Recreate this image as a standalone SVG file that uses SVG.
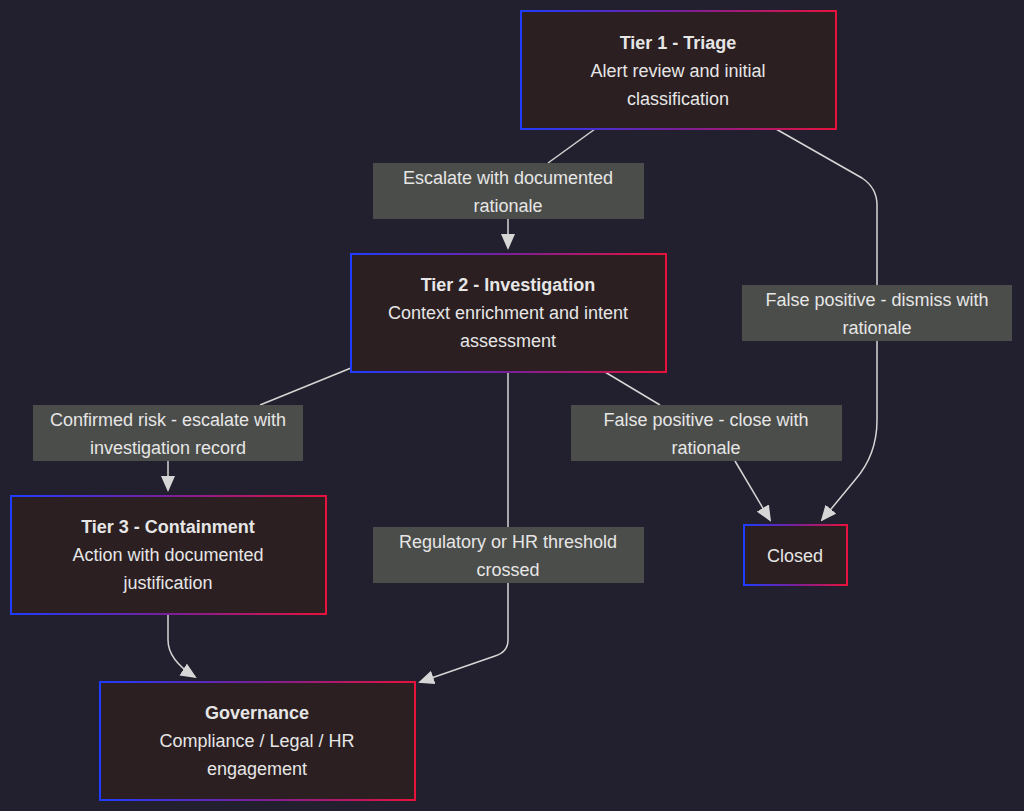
<svg xmlns="http://www.w3.org/2000/svg" width="1024" height="811" viewBox="0 0 1024 811">
<defs>
<linearGradient id="g" x1="0" y1="0" x2="1" y2="0"><stop offset="0" stop-color="#1f3cff"/><stop offset="0.5" stop-color="#7a1f9a"/><stop offset="1" stop-color="#e8123c"/></linearGradient>
<marker id="a" markerWidth="16" markerHeight="14" refX="14" refY="7" orient="auto" markerUnits="userSpaceOnUse"><path d="M0,0 L16,7 L0,14 Z" fill="#d6d6d6"/></marker>
<style>
.n{fill:#2b1f21;stroke:url(#g);stroke-width:2}
.l{fill:#4b4d4a}
.e{fill:none;stroke:#d6d6d6;stroke-width:1.5}
text{font-family:"Liberation Sans",Arial,sans-serif;font-size:18px;fill:#e6e6e6;text-anchor:middle}
.b{font-weight:bold}
</style>
</defs>
<rect width="1024" height="811" fill="#22202e"/>
<g id="connectors">
<path class="e" d="M595,129 L548,163"/>
<path class="e" d="M508,219 L508,248" marker-end="url(#a)"/>
<path class="e" d="M776,129 L862,178 Q877,188 877,205 L877,285"/>
<path class="e" d="M877,341 L877,420 Q877,455 855,480 L822,520" marker-end="url(#a)"/>
<path class="e" d="M351,368 L260,405"/>
<path class="e" d="M168,461 L168,490" marker-end="url(#a)"/>
<path class="e" d="M605,372 L660,405"/>
<path class="e" d="M735,461 L770,520" marker-end="url(#a)"/>
<path class="e" d="M508,372 L508,527"/>
<path class="e" d="M508,583 L508,640 Q508,652 495,656 L420,682" marker-end="url(#a)"/>
<path class="e" d="M168,614 L168,640 Q168,660 195,677" marker-end="url(#a)"/>
</g>
<g id="label1"><rect class="l" x="373" y="163" width="271" height="56"/><text x="508" y="184">Escalate with documented</text><text x="508" y="212">rationale</text></g>
<g id="label2"><rect class="l" x="742" y="285" width="270" height="56"/><text x="877" y="306">False positive - dismiss with</text><text x="877" y="334">rationale</text></g>
<g id="label3"><rect class="l" x="33" y="405" width="270" height="56"/><text x="168" y="426">Confirmed risk - escalate with</text><text x="168" y="454">investigation record</text></g>
<g id="label4"><rect class="l" x="571" y="405" width="271" height="56"/><text x="706" y="426">False positive - close with</text><text x="706" y="454">rationale</text></g>
<g id="label5"><rect class="l" x="373" y="527" width="271" height="56"/><text x="508" y="548">Regulatory or HR threshold</text><text x="508" y="576">crossed</text></g>
<g id="tier1"><rect class="n" x="521" y="11" width="315" height="118"/><text class="b" x="678" y="49">Tier 1 - Triage</text><text x="678" y="77">Alert review and initial</text><text x="678" y="105">classification</text></g>
<g id="tier2"><rect class="n" x="351" y="254" width="315" height="118"/><text class="b" x="508" y="291">Tier 2 - Investigation</text><text x="508" y="319">Context enrichment and intent</text><text x="508" y="347">assessment</text></g>
<g id="tier3"><rect class="n" x="11" y="496" width="315" height="118"/><text class="b" x="168" y="533">Tier 3 - Containment</text><text x="168" y="561">Action with documented</text><text x="168" y="589">justification</text></g>
<g id="governance"><rect class="n" x="100" y="682" width="315" height="118"/><text class="b" x="257" y="719">Governance</text><text x="257" y="747">Compliance / Legal / HR</text><text x="257" y="775">engagement</text></g>
<g id="closed"><rect class="n" x="744" y="525" width="103" height="60"/><text x="795" y="562">Closed</text></g>
</svg>
